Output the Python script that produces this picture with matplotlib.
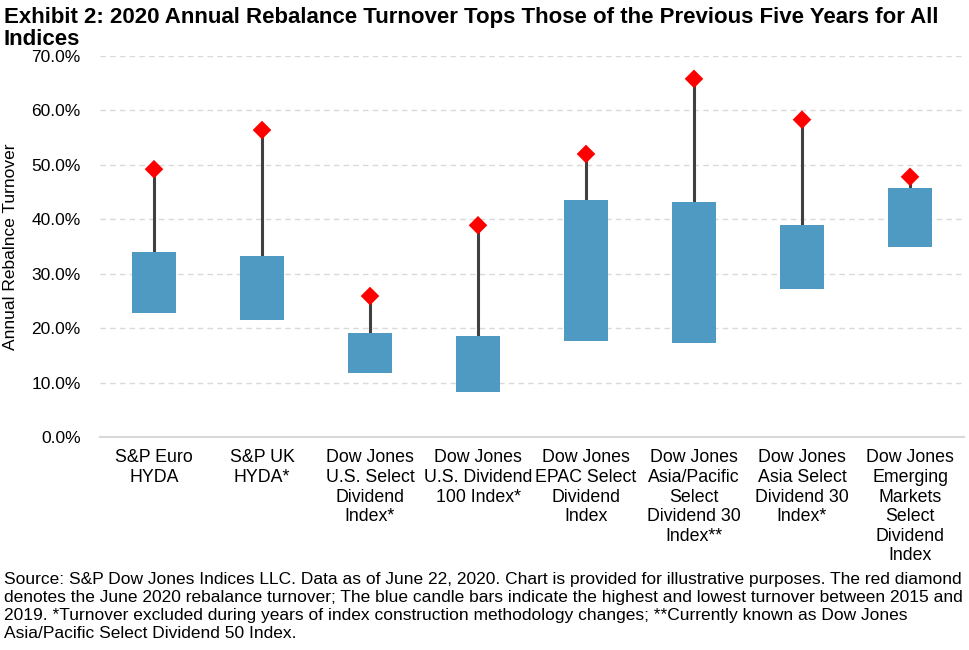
import numpy as np
import matplotlib.pyplot as plt
from matplotlib.ticker import FuncFormatter

plt.rcParams['font.family'] = ['Liberation Sans', 'DejaVu Sans']

# =========================
# Data (%)
# =========================
categories = [
    "S&P Euro\nHYDA",
    "S&P UK\nHYDA*",
    "Dow Jones\nU.S. Select\nDividend\nIndex*",
    "Dow Jones\nU.S. Dividend\n100 Index*",
    "Dow Jones\nEPAC Select\nDividend\nIndex",
    "Dow Jones\nAsia/Pacific\nSelect\nDividend 30\nIndex**",
    "Dow Jones\nAsia Select\nDividend 30\nIndex*",
    "Dow Jones\nEmerging\nMarkets\nSelect\nDividend\nIndex",
]
low_2015_2019 = [22.8, 21.5, 11.8, 8.3, 17.6, 17.3, 27.2, 34.9]
high_2015_2019 = [33.9, 33.2, 19.1, 18.5, 43.6, 43.2, 38.9, 45.7]
june_2020 = [49.2, 56.4, 25.9, 38.9, 52.0, 65.8, 58.3, 47.8]

x = np.arange(len(categories))
low = np.array(low_2015_2019)
high = np.array(high_2015_2019)
cur = np.array(june_2020)

# =========================
# Plot
# =========================
fig = plt.figure(figsize=(9.69, 6.5), dpi=100)
ax = fig.add_axes([100/969, 1 - 437/650, 864/969, 381/650])

ax.vlines(x, high, cur, colors='#404040', linewidth=2.2, zorder=2)
ax.bar(x, high - low, bottom=low, width=0.4, color='#4F9AC3', zorder=3)
ax.scatter(x, cur, marker='D', s=90, color='#FF0000', edgecolors='none', zorder=4)

ax.set_xlim(-0.5, len(categories) - 0.5)
ax.set_ylim(0, 70)
ax.set_yticks(np.arange(0, 71, 10))
ax.yaxis.set_major_formatter(FuncFormatter(lambda v, p: f"{v:.1f}%"))
ax.set_xticks(x)
ax.set_xticklabels(categories, fontsize=12.8, linespacing=1.2, color='#000000')
ax.tick_params(axis='y', labelsize=12.5, length=0, pad=14, labelcolor='#000000')
ax.tick_params(axis='x', length=0, pad=9)

ax.grid(axis='y', linestyle=(0, (4, 3)), color='#D9D9D9', linewidth=1)
ax.set_axisbelow(True)
for s in ['top', 'right', 'left']:
    ax.spines[s].set_visible(False)
ax.spines['bottom'].set_color('#D9D9D9')
ax.spines['bottom'].set_linewidth(1.5)

ax.set_ylabel("Annual Rebalnce Turnover", fontsize=12.5)
ax.yaxis.set_label_coords(-0.095, 0.5)

fig.text(0.004, 0.99,
         "Exhibit 2: 2020 Annual Rebalance Turnover Tops Those of the Previous Five Years for All\nIndices",
         fontsize=16, fontweight='bold', va='top', ha='left', linespacing=1.12)

fig.text(0.004, 0.12,
         "Source: S&P Dow Jones Indices LLC. Data as of June 22, 2020. Chart is provided for illustrative purposes. The red diamond\n"
         "denotes the June 2020 rebalance turnover; The blue candle bars indicate the highest and lowest turnover between 2015 and\n"
         "2019. *Turnover excluded during years of index construction methodology changes; **Currently known as Dow Jones\n"
         "Asia/Pacific Select Dividend 50 Index.",
         fontsize=12.5, va='top', ha='left', linespacing=1.24)

fig.savefig("out.png", dpi=100)
